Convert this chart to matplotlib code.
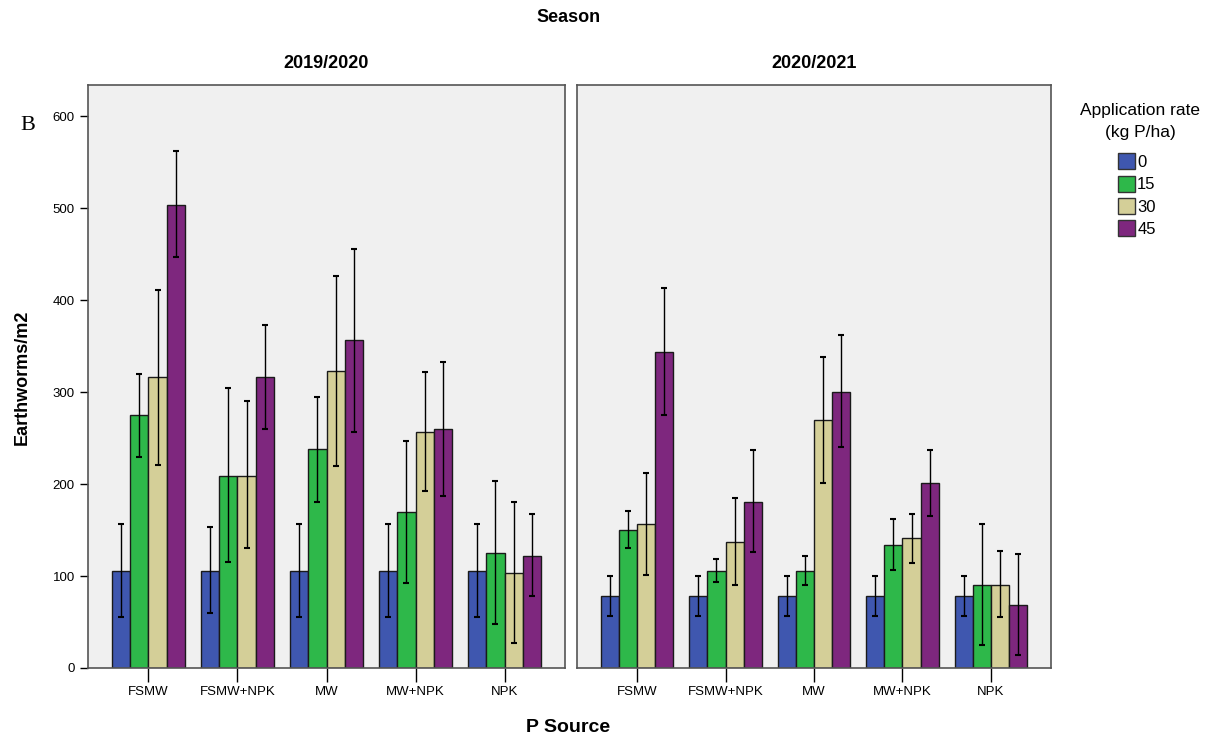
import matplotlib
matplotlib.use("Agg")
import matplotlib.pyplot as plt
import numpy as np
from matplotlib.patches import Patch

plt.rcParams['font.family'] = ['Liberation Sans Narrow', 'Liberation Sans', 'DejaVu Sans']

categories = ["FSMW", "FSMW+NPK", "MW", "MW+NPK", "NPK"]
rates = ["0", "15", "30", "45"]
seasons = ["2019/2020", "2020/2021"]
colors = ["#3F57AF", "#2EB84A", "#D4CF98", "#7E277E"]

# Season 2019/2020: means, upper and lower error limits per rate
s1_mean = {
    "0":  [106, 106, 106, 106, 106],
    "15": [275, 209, 238, 170, 125],
    "30": [317, 209, 323, 257, 103],
    "45": [504, 317, 357, 260, 122],
}
s1_hi = {
    "0":  [157, 153, 157, 157, 157],
    "15": [320, 305, 295, 247, 203],
    "30": [411, 290, 426, 322, 180],
    "45": [562, 373, 456, 333, 167],
}
s1_lo = {
    "0":  [56, 60, 56, 56, 56],
    "15": [230, 115, 181, 92, 48],
    "30": [221, 130, 220, 192, 27],
    "45": [447, 260, 257, 187, 78],
}
# Season 2020/2021
s2_mean = {
    "0":  [78, 78, 78, 78, 78],
    "15": [150, 106, 106, 134, 90],
    "30": [157, 137, 270, 141, 90],
    "45": [344, 181, 300, 201, 69],
}
s2_hi = {
    "0":  [100, 100, 100, 100, 100],
    "15": [171, 119, 122, 162, 157],
    "30": [212, 185, 338, 168, 127],
    "45": [413, 237, 362, 237, 124],
}
s2_lo = {
    "0":  [57, 57, 57, 57, 57],
    "15": [130, 94, 90, 107, 25],
    "30": [101, 90, 201, 114, 55],
    "45": [275, 126, 240, 165, 14],
}

W, H = 1221, 740
fig = plt.figure(figsize=(W / 100, H / 100), dpi=100)
fig.patch.set_facecolor("white")

def fx(px):
    return px / W

def fy(py):
    return 1 - py / H

ax_bottom = fy(668)
ax_h = fy(85) - fy(668)
ax1 = fig.add_axes([fx(88), ax_bottom, fx(565) - fx(88), ax_h])
ax2 = fig.add_axes([fx(577), ax_bottom, fx(1051) - fx(577), ax_h])

bw = 0.206
x = np.arange(len(categories))
data = [(s1_mean, s1_hi, s1_lo), (s2_mean, s2_hi, s2_lo)]

for ax, (mean, hi, lo), title in zip([ax1, ax2], data, seasons):
    ax.set_facecolor("#F0F0F0")
    for i, r in enumerate(rates):
        pos = x + (i - 1.5) * bw
        m = np.array(mean[r], dtype=float)
        h = np.array(hi[r], dtype=float)
        l = np.array(lo[r], dtype=float)
        ax.bar(pos, m, width=bw, color=colors[i], edgecolor="#1a1a1a", linewidth=1.0, zorder=2)
        ax.errorbar(pos, m, yerr=[m - l, h - m], fmt="none", ecolor="black",
                    elinewidth=1.0, capsize=2.2, capthick=1.5, zorder=3)
    ax.set_xlim(-0.678, 4.678)
    ax.set_ylim(0, 634)
    ax.set_xticks(x)
    ax.set_xticklabels(categories, fontsize=9.5)
    ax.tick_params(axis="x", direction="out", length=10, width=1, pad=3)
    for s in ax.spines.values():
        s.set_color("#555555")
        s.set_linewidth(1.2)
    ax.set_title(title, fontsize=13, fontweight="bold", pad=12)

ax1.set_yticks([0, 100, 200, 300, 400, 500, 600])
ax1.tick_params(axis="y", direction="out", length=6, width=1, labelsize=9.5)
ax2.set_yticks([])

fig.text(fx(569), fy(18), "Season", ha="center", va="center", fontsize=13, fontweight="bold")
fig.text(fx(568), fy(727), "P Source", ha="center", va="center", fontsize=14, fontweight="bold")
fig.text(fx(22), fy(377), "Earthworms/m2", ha="center", va="center", rotation=90,
         fontsize=13, fontweight="bold")
fig.text(fx(20), fy(125), "B", ha="left", va="center", fontsize=16,
         family=['Liberation Serif', 'DejaVu Serif'])

fig.text(fx(1140), fy(110), "Application rate", ha="center", va="center", fontsize=12.5)
fig.text(fx(1140), fy(133), "(kg P/ha)", ha="center", va="center", fontsize=12.5)
handles = [Patch(facecolor=c, edgecolor="#333333", label=r) for c, r in zip(colors, rates)]
leg = fig.legend(handles=handles, loc="upper left", bbox_to_anchor=(fx(1118), fy(153)),
                 frameon=False, fontsize=12, handlelength=1.0, handleheight=1.1,
                 handletextpad=0.15, labelspacing=0.35, borderaxespad=0, borderpad=0)

fig.savefig("out.png", dpi=100)
